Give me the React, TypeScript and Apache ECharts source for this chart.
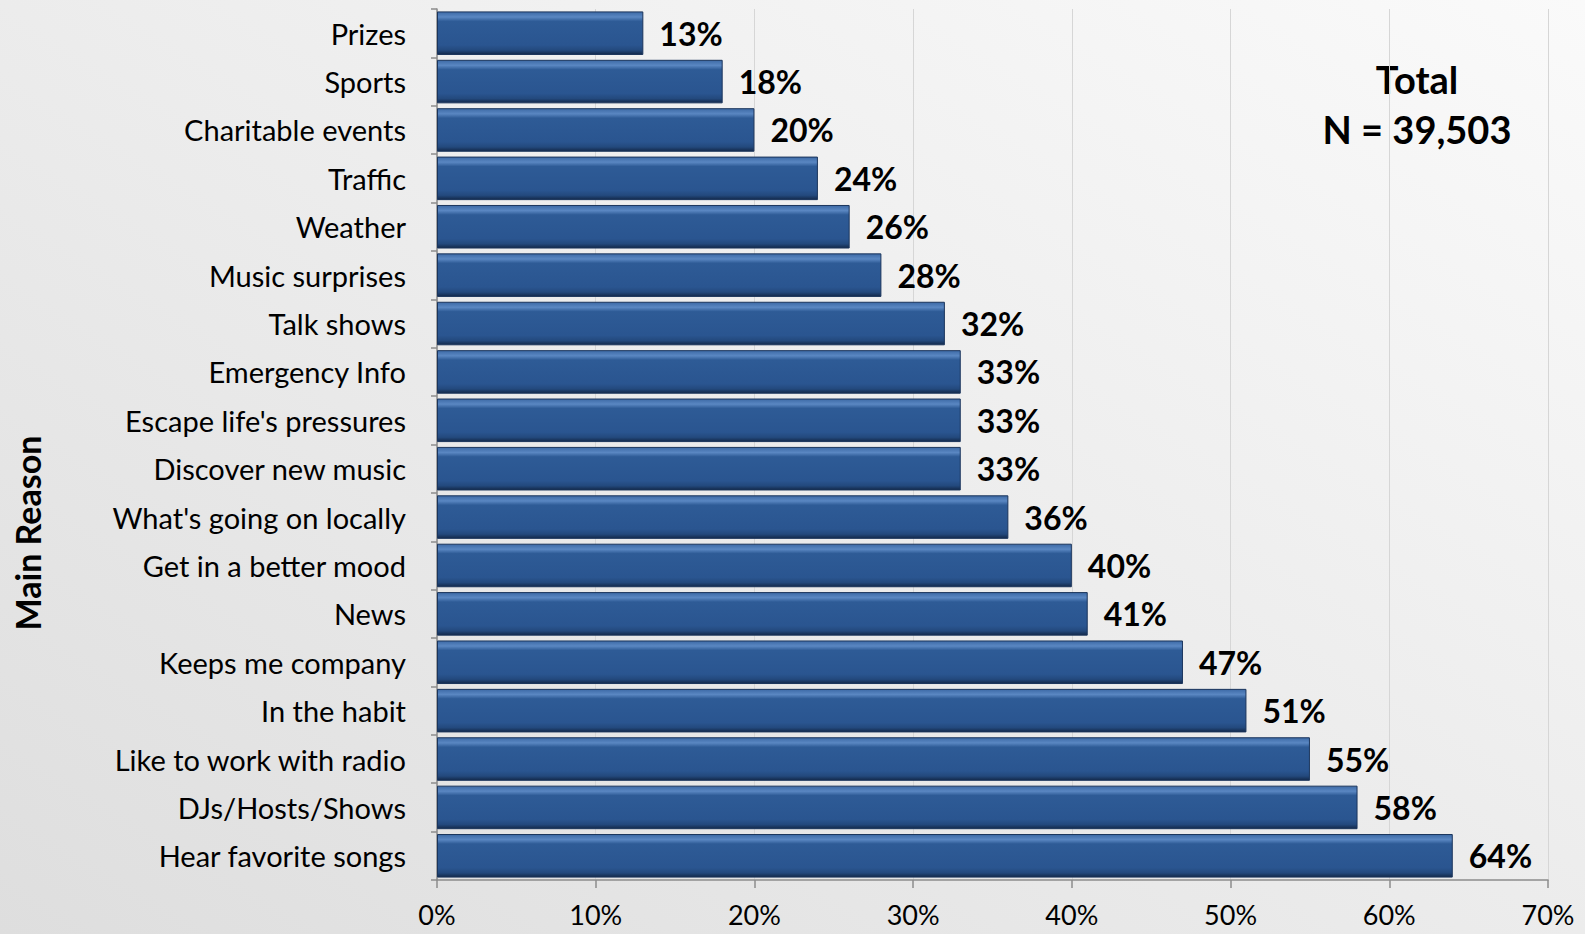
import React, { useEffect, useRef } from "react";
import * as echarts from "echarts";

const categories = [
  "Prizes",
  "Sports",
  "Charitable events",
  "Traffic",
  "Weather",
  "Music surprises",
  "Talk shows",
  "Emergency Info",
  "Escape life's pressures",
  "Discover new music",
  "What's going on locally",
  "Get in a better mood",
  "News",
  "Keeps me company",
  "In the habit",
  "Like to work with radio",
  "DJs/Hosts/Shows",
  "Hear favorite songs",
];
const values = [13, 18, 20, 24, 26, 28, 32, 33, 33, 33, 36, 40, 41, 47, 51, 55, 58, 64];
const axisTitle = "Main Reason";
const noteLines = ["Total", "N = 39,503"];

const FONT = "Lato, 'Open Sans', sans-serif";

export default function App() {
  const ref = useRef<HTMLDivElement>(null);
  useEffect(() => {
    if (!ref.current) return;
    const chart = echarts.init(ref.current, null, { renderer: "svg" });
    chart.setOption({
      animation: false,
      backgroundColor: new echarts.graphic.LinearGradient(0, 1, 1, 0, [
        { offset: 0, color: "#dedede" },
        { offset: 0.5, color: "#ececec" },
        { offset: 1, color: "#fafafa" },
      ]),
      textStyle: { fontFamily: FONT },
      grid: { left: 437, right: 37, top: 9, bottom: 54, containLabel: false },
      xAxis: {
        type: "value",
        min: 0,
        max: 70,
        interval: 10,
        axisLine: { show: true, lineStyle: { color: "#8c8c8c", width: 1.5 } },
        axisTick: { show: true, length: 8, lineStyle: { color: "#8c8c8c", width: 1.5 } },
        splitLine: { show: true, lineStyle: { color: "#d6d6d6", width: 1 } },
        axisLabel: {
          formatter: "{value}%",
          color: "#000",
          fontSize: 27,
          fontFamily: FONT,
          margin: 21,
        },
      },
      yAxis: {
        type: "category",
        data: categories,
        inverse: true,
        axisLine: { show: true, lineStyle: { color: "#8c8c8c", width: 1.5 } },
        axisTick: { show: true, length: 6, lineStyle: { color: "#8c8c8c", width: 1.5 } },
        axisLabel: { color: "#000", fontSize: 29, fontFamily: FONT, margin: 31 },
      },
      series: [
        {
          type: "bar",
          data: values,
          barCategoryGap: "10%",
          itemStyle: {
            color: new echarts.graphic.LinearGradient(0, 0, 0, 1, [
              { offset: 0, color: "#3d6aa6" },
              { offset: 0.12, color: "#5a87c2" },
              { offset: 0.22, color: "#2e5b96" },
              { offset: 0.78, color: "#2a5590" },
              { offset: 0.9, color: "#23497d" },
              { offset: 1, color: "#13294a" },
            ]),
            borderColor: "#1b355c",
            borderWidth: 1,
          },
          label: {
            show: true,
            position: "right",
            distance: 16,
            formatter: "{c}%",
            color: "#000",
            fontSize: 32,
            fontWeight: "bold",
            fontFamily: FONT,
          },
        },
      ],
      graphic: [
        {
          type: "text",
          x: 27,
          y: 533,
          rotation: Math.PI / 2,
          style: {
            text: axisTitle,
            textAlign: "center",
            textVerticalAlign: "middle",
            fontSize: 34,
            fontWeight: "bold",
            fontFamily: FONT,
            fill: "#000",
          },
        },
        {
          type: "text",
          left: 1417 - 100,
          top: 54,
          style: {
            text: noteLines.join("\n"),
            width: 200,
            textAlign: "center",
            fontSize: 38,
            fontWeight: "bold",
            fontFamily: FONT,
            lineHeight: 50,
            fill: "#000",
          },
        },
      ],
    });
    return () => chart.dispose();
  }, []);
  return (
    <div
      ref={ref}
      style={{ position: "fixed", left: 0, top: 0, width: 1585, height: 934 }}
    />
  );
}
